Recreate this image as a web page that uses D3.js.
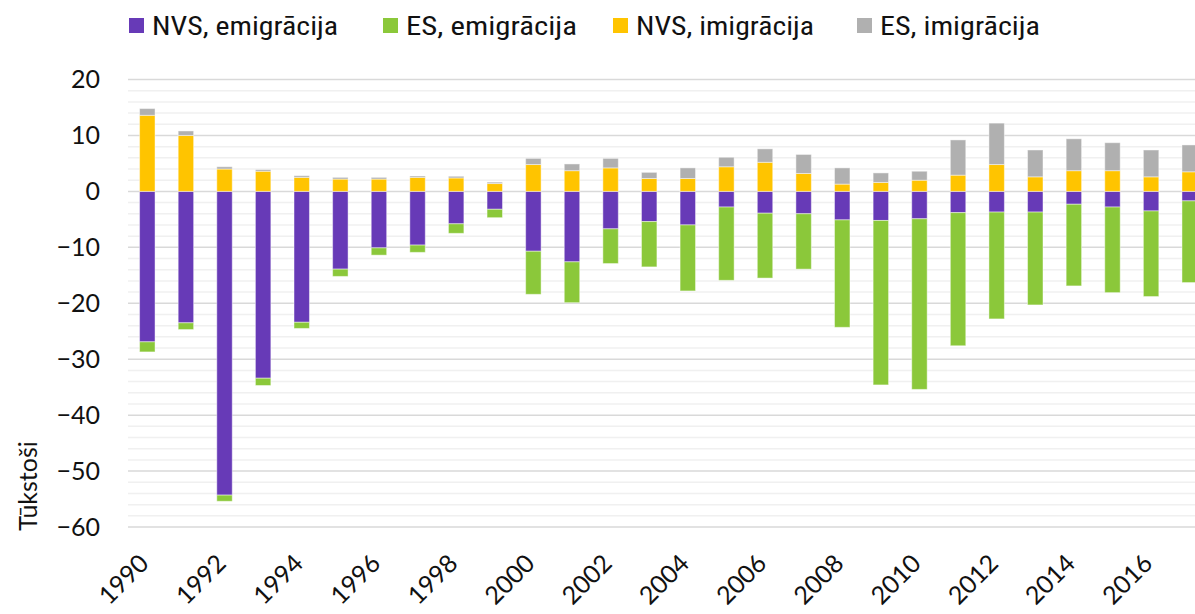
<!DOCTYPE html>
<html><head><meta charset="utf-8">
<script src="https://cdn.jsdelivr.net/npm/d3@7/dist/d3.min.js"></script>
<style>body{margin:0;background:#fff;}svg{display:block;}</style>
</head><body>
<svg id="c" width="1195" height="614"></svg>
<script>
const years = d3.range(1990, 2018);
const nvsEmig = [-26.9,-23.5,-54.3,-33.4,-23.4,-13.9,-10.1,-9.6,-5.8,-3.2,-10.7,-12.6,-6.7,-5.4,-6.0,-2.8,-3.9,-4.0,-5.1,-5.2,-4.9,-3.8,-3.7,-3.7,-2.3,-2.8,-3.5,-1.7];
const esEmig  = [-1.8,-1.2,-1.1,-1.3,-1.1,-1.3,-1.3,-1.3,-1.7,-1.5,-7.7,-7.3,-6.2,-8.1,-11.8,-13.1,-11.6,-9.9,-19.2,-29.4,-30.5,-23.8,-19.1,-16.6,-14.6,-15.3,-15.3,-14.6];
const nvsImig = [13.6,10.0,4.0,3.6,2.5,2.2,2.2,2.5,2.4,1.4,4.8,3.7,4.2,2.3,2.3,4.4,5.2,3.2,1.3,1.6,2.0,2.9,4.8,2.6,3.7,3.7,2.6,3.5];
const esImig  = [1.2,0.8,0.4,0.3,0.3,0.3,0.3,0.25,0.3,0.25,1.1,1.2,1.7,1.1,1.9,1.7,2.4,3.4,2.9,1.7,1.6,6.3,7.4,4.8,5.7,5.0,4.8,4.8];
const yTicks = [20,10,0,-10,-20,-30,-40,-50,-60];
const xTickLabels = years.filter(v => v % 2 === 0);
const seriesNames = ["NVS, emigrācija","ES, emigrācija","NVS, imigrācija","ES, imigrācija"];
const colors = ["#673ab7","#8bc83a","#ffc400","#b0b0b0"];

(function(){
const svg = d3.select("#c");
const mLeft = 128, mRight = 1209, mTop = 79.5, mBottom = 527;
const x = d3.scaleBand().domain(years).range([mLeft, mRight]).paddingInner(0.6).paddingOuter(0.3);
const y = d3.scaleLinear().domain([-60, 20]).range([mBottom, mTop]);

const g = svg.append("g");
g.selectAll("line.minor").data(d3.range(-60, 21, 2).filter(v => v % 10 !== 0)).join("line")
  .attr("class","minor")
  .attr("x1", mLeft).attr("x2", 1195).attr("y1", d => y(d)).attr("y2", d => y(d))
  .attr("stroke", "#f0f0f0").attr("stroke-width", 1.5);
g.selectAll("line.major").data(yTicks).join("line")
  .attr("class","major")
  .attr("x1", mLeft).attr("x2", 1195).attr("y1", d => y(d)).attr("y2", d => y(d))
  .attr("stroke", "#d9d9d9").attr("stroke-width", 1.5);

const yAxis = svg.append("g").attr("transform", `translate(${mLeft},0)`)
  .call(d3.axisLeft(y).tickValues(yTicks).tickSize(0).tickPadding(28));
yAxis.select(".domain").remove();
yAxis.selectAll("text").attr("font-family", "Lato, 'Open Sans', sans-serif").attr("font-size", 25).attr("fill", "#111");

const stacks = [
  {vals: nvsEmig, base: () => 0, c: colors[0]},
  {vals: esEmig, base: i => nvsEmig[i], c: colors[1]},
  {vals: nvsImig, base: () => 0, c: colors[2]},
  {vals: esImig, base: i => nvsImig[i], c: colors[3]}
];
stacks.forEach(s => {
  svg.append("g").selectAll("rect").data(years).join("rect")
    .attr("x", d => x(d))
    .attr("width", x.bandwidth())
    .attr("y", (d, i) => y(Math.max(s.base(i), s.base(i) + s.vals[i])))
    .attr("height", (d, i) => Math.abs(y(s.base(i)) - y(s.base(i) + s.vals[i])))
    .attr("fill", s.c)
    .attr("stroke", "#ffffff").attr("stroke-opacity", 0.45).attr("stroke-width", 1);
});

const xAxis = svg.append("g").attr("transform", `translate(0,${mBottom})`)
  .call(d3.axisBottom(x).tickValues(xTickLabels).tickSize(0).tickPadding(0));
xAxis.select(".domain").remove();
xAxis.selectAll("text")
  .attr("font-family", "Lato, 'Open Sans', sans-serif").attr("font-size", 25).attr("fill", "#111")
  .attr("text-anchor", "end")
  .attr("x", 0).attr("y", 0).attr("dy", 0).attr("dx", 0)
  .attr("transform", "translate(3,38) rotate(-45)");

svg.append("text").attr("transform", "translate(37,486) rotate(-90)")
  .attr("text-anchor", "middle").attr("font-family", "Lato, 'Open Sans', sans-serif")
  .attr("font-size", 25).attr("fill", "#111").text("Tūkstoši");

const legX = [129, 383, 613, 857];
const legW = [186, 171, 178, 160];
const leg = svg.append("g");
seriesNames.forEach((n, i) => {
  leg.append("rect").attr("x", legX[i]).attr("y", 18).attr("width", 15).attr("height", 15).attr("fill", colors[i]);
  leg.append("text").attr("x", legX[i] + 23).attr("y", 35)
    .attr("font-family", "'Liberation Sans Narrow', 'Roboto Condensed', Lato, sans-serif")
    .attr("font-size", 25).attr("fill", "#111")
    .attr("textLength", legW[i]).attr("lengthAdjust", "spacingAndGlyphs")
    .text(n);
});
})();
</script>
</body></html>
